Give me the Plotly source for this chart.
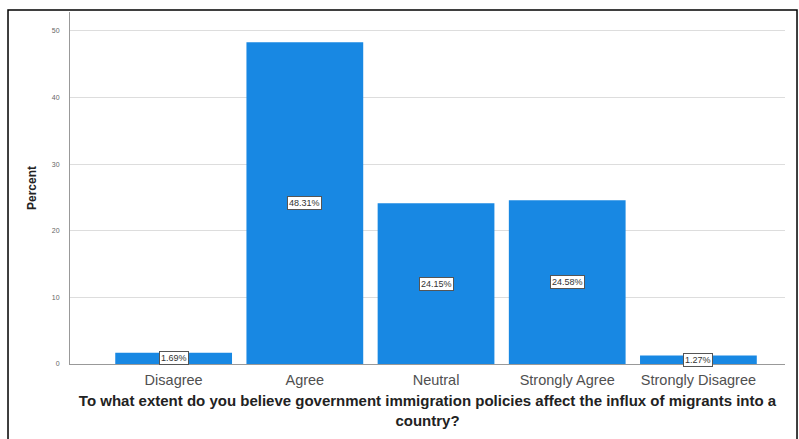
import plotly.graph_objects as go

categories = ["Disagree", "Agree", "Neutral", "Strongly Agree", "Strongly Disagree"]
percent = [1.69, 48.31, 24.15, 24.58, 1.27]
y_ticks = [0, 10, 20, 30, 40, 50]

bar_color = "#1888E3"

fig = go.Figure()
fig.add_trace(go.Bar(
    x=list(range(len(categories))),
    y=percent,
    marker=dict(color=bar_color, line=dict(width=0)),
    width=0.89,
    hoverinfo="skip",
))

# value labels in small white boxes at the middle of each bar
for i, v in enumerate(percent):
    fig.add_annotation(
        x=i, y=v / 2, xref="x", yref="y",
        text=f"{v:.2f}%", showarrow=False,
        font=dict(family="Arial, Liberation Sans", size=9, color="#333333"),
        bgcolor="white", bordercolor="#555555", borderwidth=1, borderpad=1,
    )

# outer frame around the chart
fig.add_shape(type="rect", xref="paper", yref="paper",
              x0=-0.0867, x1=1.0168, y0=-0.3, y1=1.0057,
              line=dict(color="black", width=1.5), fillcolor="rgba(0,0,0,0)")

fig.update_layout(
    width=799, height=439,
    margin=dict(l=70, r=14, t=12, b=75),
    paper_bgcolor="white", plot_bgcolor="white",
    showlegend=False,
    font=dict(family="Arial, Liberation Sans", color="#555555"),
    xaxis=dict(
        range=[-0.79, 4.66],
        tickmode="array", tickvals=list(range(len(categories))), ticktext=categories,
        tickfont=dict(size=14.5, color="#505050"),
        showline=True, linecolor="#999999", linewidth=1,
        showgrid=False, ticks="outside", ticklen=3, tickcolor="rgba(0,0,0,0)",
        title=dict(
            text="<b>To what extent do you believe government immigration policies affect the influx of migrants into a<br>country?</b>",
            font=dict(size=15, color="#222222"), standoff=8,
        ),
    ),
    yaxis=dict(
        range=[0, 52.85],
        tickmode="array", tickvals=y_ticks,
        tickfont=dict(size=7, color="#666666"),
        showline=True, linecolor="#999999", linewidth=1,
        showgrid=True, gridcolor="#DDDDDD", gridwidth=1,
        zeroline=False, ticks="outside", ticklen=8, tickcolor="rgba(0,0,0,0)",
        title=dict(text="<b>Percent</b>", font=dict(size=12, color="#222222"), standoff=12),
    ),
)

fig.write_html("out.html")
